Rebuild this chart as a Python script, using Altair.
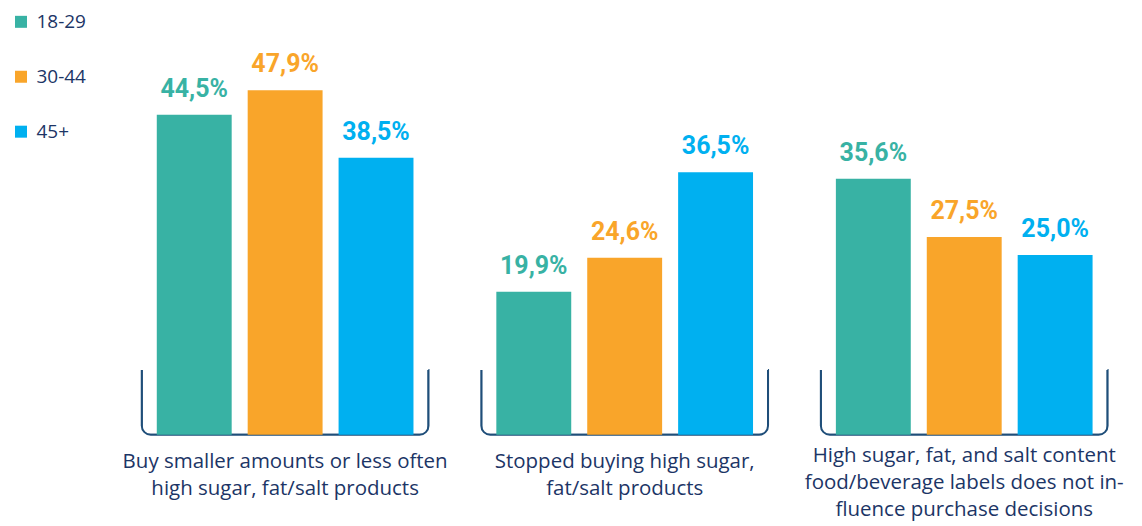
import altair as alt
import pandas as pd

categories = [
    "Buy smaller amounts or less often|high sugar, fat/salt products",
    "Stopped buying high sugar,|fat/salt products",
    "High sugar, fat, and salt content|food/beverage labels does not in-|fluence purchase decisions",
]
age_groups = ["18-29", "30-44", "45+"]
values_18_29 = [44.5, 19.9, 35.6]
values_30_44 = [47.9, 24.6, 27.5]
values_45_plus = [38.5, 36.5, 25.0]
colors = ["#38B2A4", "#F9A52A", "#00B0F0"]
navy = "#1C3566"
bracket_color = "#1F4E79"

series = [values_18_29, values_30_44, values_45_plus]
rows = []
for j, age in enumerate(age_groups):
    for i, cat in enumerate(categories):
        v = series[j][i]
        rows.append({"category": cat, "age": age, "value": v,
                     "label": f"{v:.1f}".replace(".", ",") + "%"})
df = pd.DataFrame(rows)
bdf = pd.DataFrame({"category": categories, "value": [9.0] * len(categories)})

x_enc = alt.X(
    "category:N", sort=categories,
    scale=alt.Scale(paddingInner=0.244, paddingOuter=0.122),
    axis=alt.Axis(title=None, domain=False, ticks=False, labelAngle=0,
                  labelExpr="split(datum.label, '|')", labelFontSize=20.5,
                  labelFont="Open Sans", labelColor=navy, labelLineHeight=27,
                  labelLimit=500, labelBaseline="middle",
                  labelPadding={"condition": {"test": "length(split(datum.label, '|')) > 2",
                                              "value": 21}, "value": 27}),
)
xoff = alt.XOffset("age:N", sort=age_groups,
                   scale=alt.Scale(paddingInner=0.176, paddingOuter=0))
y_enc = alt.Y("value:Q", scale=alt.Scale(domain=[0, 57.9]), axis=None)
color_enc = alt.Color(
    "age:N", sort=age_groups,
    scale=alt.Scale(domain=age_groups, range=colors),
    legend=alt.Legend(title=None, orient="none", legendX=-104, legendY=-6,
                      symbolType="square", symbolSize=144, labelFontSize=19,
                      labelFont="Open Sans", labelColor=navy, rowPadding=35,
                      padding=0, labelOffset=6, symbolStrokeWidth=0),
)

bracket = alt.Chart(bdf).mark_bar(
    width=alt.RelativeBandSize(1.117), fill="transparent", stroke=bracket_color,
    strokeWidth=2, cornerRadiusBottomLeft=9, cornerRadiusBottomRight=9,
    strokeDash=[0, 287, 2000, 0],
).encode(x=x_enc, y=y_enc)

bars = alt.Chart(df).mark_bar().encode(x=x_enc, xOffset=xoff, y=y_enc, color=color_enc)

labels = alt.Chart(df).mark_text(
    baseline="alphabetic", dy=-18, fontSize=25, fontWeight="bold", font="Roboto"
).encode(x=x_enc, xOffset=xoff, y=y_enc, text="label:N", color=color_enc)

chart = alt.layer(bracket, bars, labels).properties(
    width=1020, height=417,
    autosize=alt.AutoSizeParams(type="none"),
    padding={"left": 107.5, "top": 10, "right": 0, "bottom": 90},
).configure_view(stroke=None)

chart.save("out.html", embed_options={"renderer": "svg", "actions": False})
